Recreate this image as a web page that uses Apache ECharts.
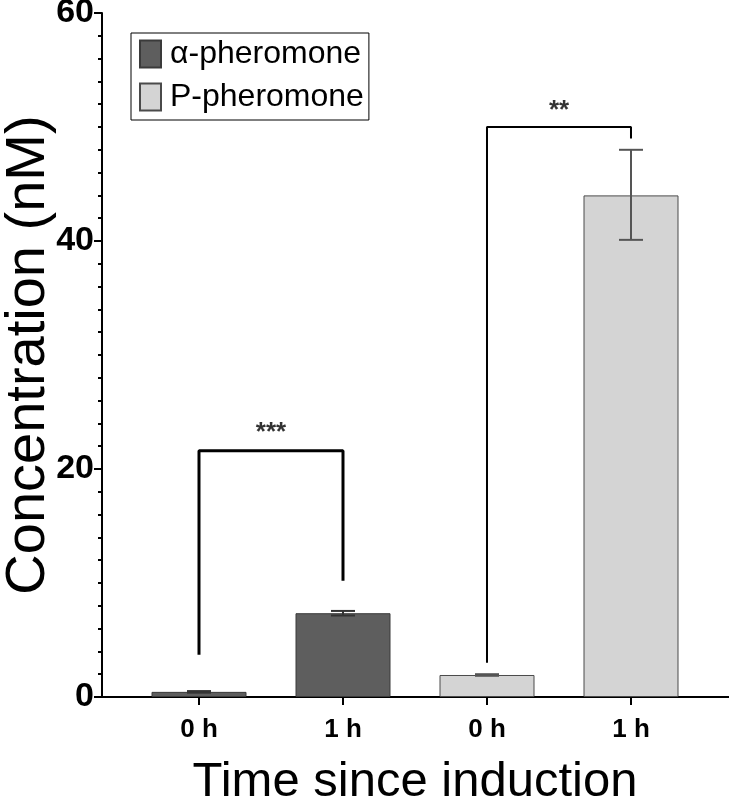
<!DOCTYPE html>
<html>
<head>
<meta charset="utf-8">
<title>Concentration</title>
<script src="https://cdn.jsdelivr.net/npm/echarts@6/dist/echarts.min.js"></script>
<style>
  html, body { margin: 0; padding: 0; background: #fff; overflow: hidden; }
  #chart { width: 729px; height: 799px; }
</style>
</head>
<body>
<div id="chart"></div>
<script>
// 横轴的分类
var categories = ["0 h", "1 h", "0 h", "1 h"];
// 两组信息素的浓度 (nM)
var alphaValues = [0.45, 7.35, "-", "-"];
var pValues = ["-", "-", 1.93, 44];
// 误差线 [分类序号, 下限, 上限]
var alphaErrors = [[0, 0.38, 0.52], [1, 7.15, 7.55]];
var pErrors = [[2, 1.86, 2.0], [3, 40.1, 48.0]];
// y轴刻度
var yTicks = [0, 20, 40, 60];
// 显著性标记 [分类位置, 数值]
var bracket1 = [[0, 3.7], [0, 21.6], [1, 21.6], [1, 10.2]];
var bracket2 = [[2, 3.0], [2, 50.0], [3, 50.0], [3, 49.0]];
var stars = [[0.5, 23.2, "***"], [2.5, 51.4, "**"]];

var chart = echarts.init(document.getElementById("chart"));
var font = "Liberation Sans, Arial, sans-serif";

// 画误差线
function errorBar(color, width) {
  return function(params, api) {
    var x = api.value(0);
    var lo = api.coord([x, api.value(1)]);
    var hi = api.coord([x, api.value(2)]);
    var half = 12;
    var style = { stroke: color, lineWidth: width };
    return {
      type: "group",
      children: [
        { type: "line", shape: { x1: hi[0], y1: hi[1], x2: lo[0], y2: lo[1] }, style: style },
        { type: "line", shape: { x1: hi[0] - half, y1: hi[1], x2: hi[0] + half, y2: hi[1] }, style: style },
        { type: "line", shape: { x1: lo[0] - half, y1: lo[1], x2: lo[0] + half, y2: lo[1] }, style: style }
      ]
    };
  };
}

var option = {
  backgroundColor: "#fff",
  animation: false,
  textStyle: { fontFamily: font },
  legend: {
    data: ["α-pheromone", "P-pheromone"],
    orient: "vertical",
    left: 131,
    top: 33,
    icon: "rect",
    itemWidth: 21,
    itemHeight: 27,
    itemGap: 11,
    padding: [5, 5, 7, 8],
    borderColor: "#000",
    borderWidth: 1,
    textStyle: { fontSize: 32, color: "#000", fontFamily: font, padding: [0, 0, 0, 4] }
  },
  grid: [
    // 柱子所在的网格
    { left: 127, right: 26, top: 13, bottom: 102, outerBoundsMode: "none" },
    // 整条横轴和标注用的网格
    { left: 102, right: 0, top: 13, bottom: 102, outerBoundsMode: "none" }
  ],
  xAxis: [
    {
      gridIndex: 0,
      type: "category",
      data: categories,
      axisLine: { show: false },
      axisTick: { show: true, alignWithLabel: true, length: 8, lineStyle: { color: "#000", width: 2 } },
      axisLabel: { color: "#000", fontSize: 26, fontWeight: "bold", margin: 20, fontFamily: font },
      name: "Time since induction",
      nameLocation: "middle",
      nameGap: 61,
      nameTextStyle: { fontSize: 49, color: "#000", fontFamily: font }
    },
    {
      gridIndex: 1,
      type: "value",
      min: -0.6736,
      max: 3.6806,
      axisLine: { show: true, onZero: false, lineStyle: { color: "#000", width: 2 } },
      axisTick: { show: false },
      axisLabel: { show: false },
      splitLine: { show: false }
    }
  ],
  yAxis: [
    {
      gridIndex: 0,
      type: "value",
      min: yTicks[0],
      max: yTicks[yTicks.length - 1],
      interval: yTicks[1] - yTicks[0],
      offset: 25,
      axisLine: { show: true, lineStyle: { color: "#000", width: 2 } },
      axisTick: { show: true, length: 8, lineStyle: { color: "#000", width: 2 } },
      minorTick: { show: true, splitNumber: 10, length: 4, lineStyle: { color: "#000", width: 2 } },
      splitLine: { show: false },
      axisLabel: { color: "#000", fontSize: 34, fontWeight: "bold", margin: 8, fontFamily: font },
      name: "Concentration (nM)",
      nameLocation: "middle",
      nameGap: 45,
      nameMoveOverlap: false,
      nameTextStyle: { fontSize: 56, color: "#000", fontFamily: font }
    },
    {
      gridIndex: 1,
      type: "value",
      min: yTicks[0],
      max: yTicks[yTicks.length - 1],
      show: false
    }
  ],
  series: [
    {
      name: "α-pheromone",
      type: "bar",
      xAxisIndex: 0,
      yAxisIndex: 0,
      data: alphaValues,
      barWidth: 95,
      barGap: "-100%",
      itemStyle: { color: "#5e5e5e", borderColor: "#3a3a3a", borderWidth: 1 }
    },
    {
      name: "P-pheromone",
      type: "bar",
      xAxisIndex: 0,
      yAxisIndex: 0,
      data: pValues,
      barWidth: 95,
      barGap: "-100%",
      itemStyle: { color: "#d4d4d4", borderColor: "#4a4a4a", borderWidth: 1 }
    },
    {
      type: "custom",
      xAxisIndex: 0,
      yAxisIndex: 0,
      data: alphaErrors,
      renderItem: errorBar("#333", 2),
      z: 5
    },
    {
      type: "custom",
      xAxisIndex: 0,
      yAxisIndex: 0,
      data: pErrors,
      renderItem: errorBar("#555", 2),
      z: 5
    },
    // 显著性的括号
    {
      type: "line",
      xAxisIndex: 1,
      yAxisIndex: 1,
      data: bracket1,
      symbol: "none",
      lineStyle: { color: "#000", width: 3 },
      z: 6
    },
    {
      type: "line",
      xAxisIndex: 1,
      yAxisIndex: 1,
      data: bracket2,
      symbol: "none",
      lineStyle: { color: "#000", width: 2 },
      z: 6
    },
    {
      type: "scatter",
      xAxisIndex: 1,
      yAxisIndex: 1,
      data: stars,
      symbolSize: 1,
      itemStyle: { color: "rgba(0,0,0,0)" },
      label: {
        show: true,
        position: "inside",
        formatter: function(p) { return p.value[2]; },
        color: "#000",
        fontSize: 26,
        fontWeight: "bold",
        fontFamily: font
      },
      z: 6
    }
  ]
};
chart.setOption(option);
</script>
</body>
</html>
